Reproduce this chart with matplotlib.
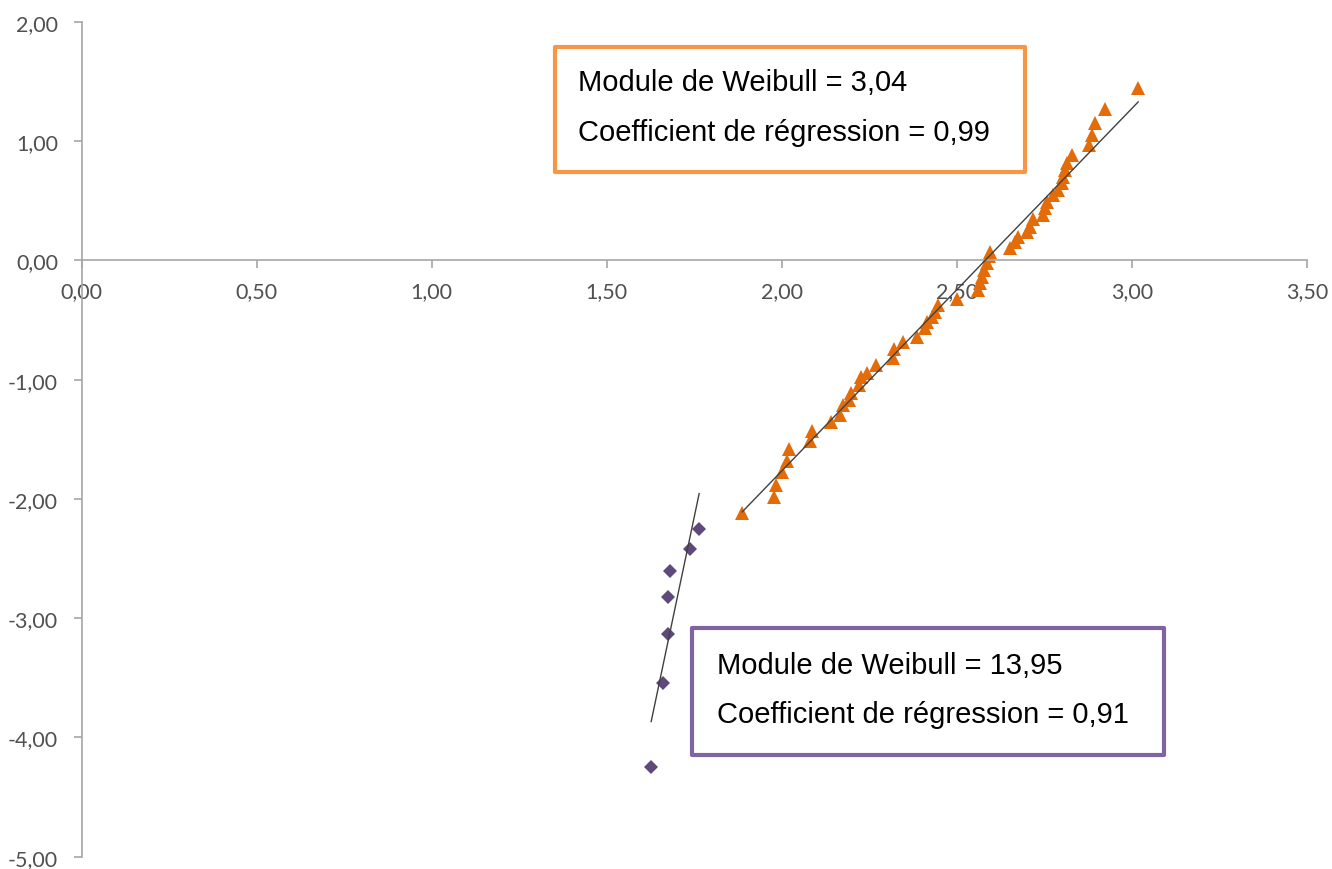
import numpy as np
import matplotlib
matplotlib.use('Agg')
import matplotlib.pyplot as plt
from matplotlib.patches import Rectangle
from matplotlib.ticker import FuncFormatter, MultipleLocator

# Donnees (ln(contrainte), ln(ln(1/(1-P))))
orange_x = [1.887, 1.978, 1.984, 2.001, 2.015, 2.021, 2.081, 2.087, 2.141, 2.167,
            2.175, 2.192, 2.198, 2.221, 2.226, 2.243, 2.269, 2.318, 2.321, 2.346,
            2.386, 2.409, 2.415, 2.429, 2.438, 2.446, 2.501, 2.561, 2.566, 2.572,
            2.578, 2.586, 2.592, 2.595, 2.652, 2.666, 2.675, 2.701, 2.709, 2.718,
            2.746, 2.752, 2.758, 2.775, 2.789, 2.801, 2.804, 2.809, 2.815, 2.829,
            2.878, 2.886, 2.895, 2.923, 3.018]
orange_y = [-2.118, -1.984, -1.883, -1.774, -1.682, -1.581, -1.514, -1.430, -1.355, -1.296,
            -1.212, -1.170, -1.112, -1.045, -0.977, -0.944, -0.877, -0.818, -0.743, -0.684,
            -0.642, -0.566, -0.516, -0.474, -0.432, -0.373, -0.323, -0.247, -0.189, -0.138,
            -0.080, -0.021, 0.038, 0.071, 0.105, 0.155, 0.197, 0.239, 0.281, 0.348,
            0.382, 0.440, 0.491, 0.549, 0.591, 0.650, 0.700, 0.759, 0.818, 0.885,
            0.969, 1.053, 1.154, 1.271, 1.447]

violet_x = [1.627, 1.661, 1.675, 1.675, 1.681, 1.738, 1.764]
violet_y = [-4.247, -3.542, -3.134, -2.826, -2.602, -2.418, -2.255]

# Droites de regression (pente = module de Weibull)
orange_pente, orange_ordonnee = 3.04, -7.845
violet_pente, violet_ordonnee = 13.95, -26.563

orange_textes = ['Module de Weibull = 3,04', 'Coefficient de régression = 0,99']
violet_textes = ['Module de Weibull = 13,95', 'Coefficient de régression = 0,91']

gris_axe = '#a6a6a6'
gris_texte = '#505050'

fig = plt.figure(figsize=(13.32, 8.7), dpi=100)
ax = fig.add_axes([0.0612, 0.0141, 0.9200, 0.9595])

ax.set_xlim(0, 3.5)
ax.set_ylim(-5, 2)

# Points
ax.plot(orange_x, orange_y, linestyle='none', marker='^', markersize=9.5,
        color='#e36c09', markeredgewidth=0, zorder=2)
ax.plot(violet_x, violet_y, linestyle='none', marker='D', markersize=7,
        color='#5f497a', markeredgewidth=0, zorder=2)

# Droites
xo = np.array([min(orange_x), max(orange_x)])
ax.plot(xo, orange_pente * xo + orange_ordonnee, color='#404040', lw=1, zorder=3)
xv = np.array([min(violet_x), max(violet_x)])
ax.plot(xv, violet_pente * xv + violet_ordonnee, color='#404040', lw=1, zorder=3)

# Axes style Excel
for s in ['top', 'right']:
    ax.spines[s].set_visible(False)
ax.spines['bottom'].set_position(('data', 0))
ax.spines['left'].set_position(('data', 0))
for s in ['bottom', 'left']:
    ax.spines[s].set_color(gris_axe)
    ax.spines[s].set_linewidth(1.2)

ax.xaxis.set_major_locator(MultipleLocator(0.5))
ax.yaxis.set_major_locator(MultipleLocator(1))
fmt = FuncFormatter(lambda v, p: f'{v:.2f}'.replace('.', ','))
ax.xaxis.set_major_formatter(fmt)
ax.yaxis.set_major_formatter(fmt)
ax.tick_params(axis='x', direction='out', length=6, width=1.2, color=gris_axe,
               labelcolor=gris_texte, labelsize=15.5, pad=9)
ax.tick_params(axis='y', direction='out', length=6, width=1.2, color=gris_axe,
               labelcolor=gris_texte, labelsize=15.5, pad=11)
for lab in ax.get_xticklabels() + ax.get_yticklabels():
    lab.set_fontfamily('Lato')

# Encadres
police = ['Liberation Sans', 'DejaVu Sans']
ax.add_patch(Rectangle((1.352, 0.742), 2.695 - 1.352, 1.791 - 0.742, fill=True,
                       facecolor='white', edgecolor='#f79646', lw=3,
                       joinstyle='round', zorder=4, clip_on=False))
ax.text(1.418, 1.430, orange_textes[0], fontsize=21, family=police,
        va='baseline', ha='left', zorder=5)
ax.text(1.418, 1.011, orange_textes[1], fontsize=21, family=police,
        va='baseline', ha='left', zorder=5)

ax.add_patch(Rectangle((1.744, -4.148), 3.092 - 1.744, -3.083 + 4.148, fill=True,
                       facecolor='white', edgecolor='#8064a2', lw=3,
                       joinstyle='round', zorder=4, clip_on=False))
ax.text(1.815, -3.461, violet_textes[0], fontsize=21, family=police,
        va='baseline', ha='left', zorder=5)
ax.text(1.815, -3.872, violet_textes[1], fontsize=21, family=police,
        va='baseline', ha='left', zorder=5)

fig.savefig('out.png', dpi=100)
